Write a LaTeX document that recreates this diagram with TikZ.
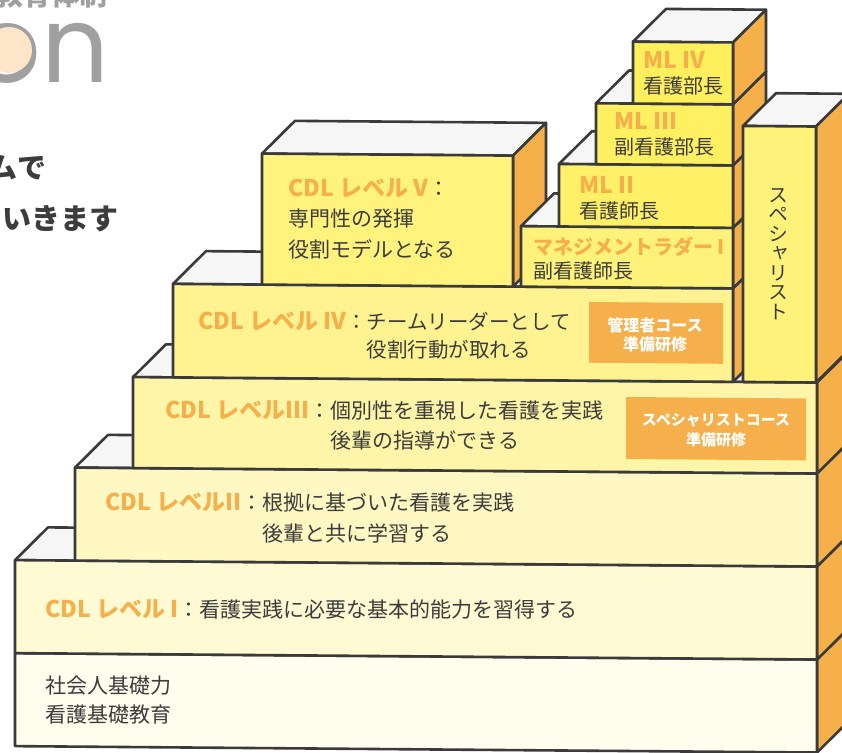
\documentclass[tikz,border=0pt]{standalone}
\usepackage{fontspec}
\newfontfamily\jp{Noto Sans CJK JP}
\newfontfamily\jpv[RawFeature=+vert]{Noto Sans CJK JP}
\newfontfamily\pop{Poppins}
\definecolor{edge}{HTML}{3A3A3A}
\definecolor{topf}{HTML}{F6F6F6}
\definecolor{sidef}{HTML}{F5B04A}
\definecolor{labc}{HTML}{F5AF4B}
\definecolor{txt}{HTML}{3C3C3C}
\definecolor{fBase}{HTML}{FFFDEE}
\definecolor{fI}{HTML}{FFFAD3}
\definecolor{fII}{HTML}{FFF8C3}
\definecolor{fIII}{HTML}{FFF5A8}
\definecolor{fIV}{HTML}{FFF391}
\definecolor{fV}{HTML}{FFF37E}
\definecolor{fMg}{HTML}{FFF27A}
\definecolor{fMLii}{HTML}{FFF067}
\definecolor{fMLiii}{HTML}{FFF062}
\definecolor{fMLiv}{HTML}{FFEF5D}
\definecolor{fSp}{HTML}{FFF27A}
\definecolor{peach}{HTML}{FDE6C8}
\definecolor{ttlc}{HTML}{A0A0A0}
\definecolor{orbox}{HTML}{F5B04B}
\tikzset{
  faceline/.style={draw=edge, line width=2.6pt, line join=round},
  topface/.style={faceline, fill=topf},
  sideface/.style={faceline, fill=sidef},
  frontface/.style={faceline},
  lvtext/.style={anchor=base west, inner sep=0pt, text=txt},
  boxtext/.style={inner sep=0pt, text=white, align=center},
  leadtext/.style={anchor=base east, inner sep=0pt, text=txt, font=\jp\bfseries\fontsize{29}{29}\selectfont},
}
\newcommand\cubeblk[5]{%
  \filldraw[topface] (#1,#3) -- (#1+33,#3-33) -- (#2+33,#3-33) -- (#2,#3) -- cycle;
  \filldraw[sideface] (#2,#3) -- (#2+33,#3-33) -- (#2+33,#4-33) -- (#2,#4) -- cycle;
  \filldraw[frontface, fill=#5] (#1,#3) rectangle (#2,#4);}
\newcommand\lab[1]{{\color{labc}\bfseries\fontsize{23}{23}\selectfont #1}}
\newcommand\labs[1]{{\color{labc}\bfseries\fontsize{20}{20}\selectfont #1}}
\begin{document}
\begin{tikzpicture}[x=1pt,y=-1pt]
\useasboundingbox (0,0) rectangle (842,752);
% title fragments
\node[anchor=base east, inner sep=0pt, text=ttlc, font=\jp\bfseries\fontsize{28}{28}\selectfont] (ttl) at (108,6) {教育体制};
\node[anchor=base west, inner sep=0pt, text=ttlc, font=\pop\fontsize{106}{106}\selectfont] (on) at (-27,82) {on};
\fill[peach] (9,50) circle (23pt);
\node[leadtext] (lead1) at (47,178) {ムで};
\node[leadtext] (lead2) at (119,229) {いきます};
% blocks
\begin{scope}[yslant=-0.008]
\cubeblk{15}{817}{653}{746}{fBase}
\cubeblk{15}{817}{560}{653}{fI}
\cubeblk{75}{817}{467}{560}{fII}
\cubeblk{133}{817}{376}{467}{fIII}
\cubeblk{173}{733}{282.5}{376}{fIV}
\cubeblk{262}{513}{151.5}{282.5}{fV}
\cubeblk{521}{733}{222}{282.5}{fMg}
\cubeblk{559}{733}{159.5}{222}{fMLii}
\cubeblk{596}{733}{98.5}{159.5}{fMLiii}
\cubeblk{633}{733}{36.6}{98.5}{fMLiv}
\cubeblk{743}{816}{120}{376}{fSp}
\fill[orbox] (589,297.3) rectangle (723,358);
\fill[orbox] (626,392) rectangle (806,454);
\end{scope}
% texts
\node[lvtext, font=\jp\fontsize{21}{30.5}\selectfont] (t5) at (288,196) {\begin{tabular}[t]{@{}l@{}}\lab{CDL レベル V}：\\ 専門性の発揮\\ 役割モデルとなる\end{tabular}};
\node[lvtext, font=\jp\fontsize{20.5}{28.5}\selectfont] (t4) at (198,329) {\begin{tabular}[t]{@{}l@{}l@{}}\lab{CDL レベル IV}： & チームリーダーとして\\ & 役割行動が取れる\end{tabular}};
\node[lvtext, font=\jp\fontsize{21}{30}\selectfont] (t3) at (165,418) {\begin{tabular}[t]{@{}l@{}l@{}}\lab{CDL レベルIII}： & 個別性を重視した看護を実践\\ & 後輩の指導ができる\end{tabular}};
\node[lvtext, font=\jp\fontsize{21}{31}\selectfont] (t2) at (105,510) {\begin{tabular}[t]{@{}l@{}l@{}}\lab{CDL レベルII}： & 根拠に基づいた看護を実践\\ & 後輩と共に学習する\end{tabular}};
\node[lvtext, font=\jp\fontsize{21}{30}\selectfont] (t1) at (45,617) {\lab{CDL レベル I}：看護実践に必要な基本的能力を習得する};
\node[lvtext, font=\jp\fontsize{21}{29.5}\selectfont] (t0) at (45,693) {\begin{tabular}[t]{@{}l@{}}社会人基礎力\\ 看護基礎教育\end{tabular}};
\node[lvtext, font=\jp\fontsize{20}{25}\selectfont] (m4) at (643,68) {\begin{tabular}[t]{@{}l@{}}\lab{ML IV}\\ 看護部長\end{tabular}};
\node[lvtext, font=\jp\fontsize{20}{25}\selectfont] (m3) at (614,129.5) {\begin{tabular}[t]{@{}l@{}}\lab{ML III}\\ 副看護部長\end{tabular}};
\node[lvtext, font=\jp\fontsize{20}{25}\selectfont] (m2) at (579,193) {\begin{tabular}[t]{@{}l@{}}\lab{ML II}\\ 看護師長\end{tabular}};
\node[lvtext, font=\jp\fontsize{20}{24}\selectfont] (m1) at (533,254) {\begin{tabular}[t]{@{}l@{}}\labs{マネジメントラダー I}\\ 副看護師長\end{tabular}};
\node[inner sep=0pt, text=txt, align=center, font=\jpv\fontsize{20}{19.5}\selectfont] (sp) at (778,254) {ス\\ペ\\シ\\ャ\\リ\\ス\\ト};
\node[boxtext, font=\jp\bfseries\fontsize{16}{19.5}\selectfont] (c1) at (655,335) {管理者コース\\準備研修};
\node[boxtext, font=\jp\bfseries\fontsize{15}{20}\selectfont] (c2) at (716,430.5) {スペシャリストコース\\準備研修};
\end{tikzpicture}
\end{document}
